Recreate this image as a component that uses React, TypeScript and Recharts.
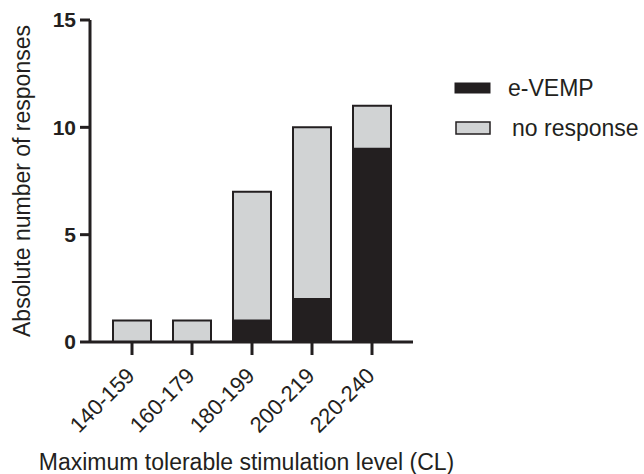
import React from 'react';
import { BarChart, Bar, XAxis, YAxis, Legend } from 'recharts';

const categories = ['140-159', '160-179', '180-199', '200-219', '220-240'];
const eVemp = [0, 0, 1, 2, 9];
const noResponse = [1, 1, 6, 8, 2];
const majorTicks = [0, 5, 10, 15];
const minorTicks = [1, 2, 3, 4, 6, 7, 8, 9, 11, 12, 13, 14];

const data = categories.map((c, i) => ({ cat: c, eVemp: eVemp[i], noResponse: noResponse[i] }));

const FONT = '"Liberation Sans", Arial, sans-serif';
const INK = '#231f20';
const GRAY = '#d1d3d4';

const XTick = (props: any) => {
  const { x, y, payload } = props;
  const px = x + 4;
  const py = y + 20;
  return (
    <text
      x={px}
      y={py}
      transform={`rotate(-45, ${px}, ${py})`}
      textAnchor="end"
      fontSize={22}
      fontFamily={FONT}
      fill={INK}
    >
      {payload.value}
    </text>
  );
};

const YLabel = (props: any) => {
  const vb = props.viewBox || {};
  const cx = 22;
  const cy = vb.y + vb.height / 2;
  return (
    <text
      x={cx}
      y={cy}
      transform={`rotate(-90, ${cx}, ${cy})`}
      textAnchor="middle"
      dominantBaseline="central"
      fontSize={23}
      fontFamily={FONT}
      fill={INK}
    >
      Absolute number of responses
    </text>
  );
};

const XLabel = (props: any) => {
  const vb = props.viewBox || {};
  const cx = vb.x + vb.width / 2 - 5;
  const cy = 462;
  return (
    <text
      x={cx}
      y={cy}
      textAnchor="middle"
      dominantBaseline="central"
      fontSize={23}
      fontFamily={FONT}
      fill={INK}
    >
      Maximum tolerable stimulation level (CL)
    </text>
  );
};

const LegendContent = () => (
  <svg width={204} height={80} style={{ display: 'block' }}>
    <rect x={15} y={13} width={35} height={10} fill={INK} stroke={INK} strokeWidth={1} />
    <text x={68} y={18} dominantBaseline="central" fontSize={23} fontFamily={FONT} fill={INK}>
      e-VEMP
    </text>
    <rect x={16} y={52} width={34} height={12} fill={GRAY} stroke={INK} strokeWidth={1.5} />
    <text x={72} y={58} dominantBaseline="central" fontSize={23} fontFamily={FONT} fill={INK}>
      no response
    </text>
  </svg>
);

export default function App() {
  return (
    <div style={{ position: 'absolute', left: 0, top: 0, width: 644, height: 474, background: '#fff' }}>
      <BarChart
        width={644}
        height={474}
        data={data}
        margin={{ top: 20, right: 231, left: 0, bottom: 0 }}
        barSize={38}
      >
        <XAxis
          dataKey="cat"
          height={132}
          padding={{ left: 12, right: 11 }}
          axisLine={{ stroke: INK, strokeWidth: 3 }}
          tickLine={{ stroke: INK, strokeWidth: 3 }}
          tickSize={13}
          tickMargin={2}
          tick={<XTick />}
          interval={0}
          label={<XLabel />}
        />
        <YAxis
          yAxisId="minor"
          width={1}
          domain={[0, 15]}
          ticks={minorTicks}
          tick={false}
          tickLine={{ stroke: INK, strokeWidth: 2.5 }}
          tickSize={6}
          axisLine={false}
          allowDataOverflow
        />
        <YAxis
          yAxisId="main"
          width={89}
          domain={[0, 15]}
          ticks={majorTicks}
          interval={0}
          axisLine={{ stroke: INK, strokeWidth: 3 }}
          tickLine={{ stroke: INK, strokeWidth: 3 }}
          tickSize={10}
          tickMargin={4}
          tick={{ fontSize: 21, fontWeight: 'bold', fontFamily: FONT, fill: INK }}
          label={<YLabel />}
        />
        <Legend
          layout="vertical"
          align="center"
          verticalAlign="middle"
          wrapperStyle={{ left: 440, top: 70, width: 204 }}
          content={<LegendContent />}
        />
        <Bar
          yAxisId="main"
          dataKey="eVemp"
          name="e-VEMP"
          stackId="a"
          fill={INK}
          stroke={INK}
          strokeWidth={2}
          isAnimationActive={false}
        />
        <Bar
          yAxisId="main"
          dataKey="noResponse"
          name="no response"
          stackId="a"
          fill={GRAY}
          stroke={INK}
          strokeWidth={2}
          isAnimationActive={false}
        />
      </BarChart>
    </div>
  );
}
